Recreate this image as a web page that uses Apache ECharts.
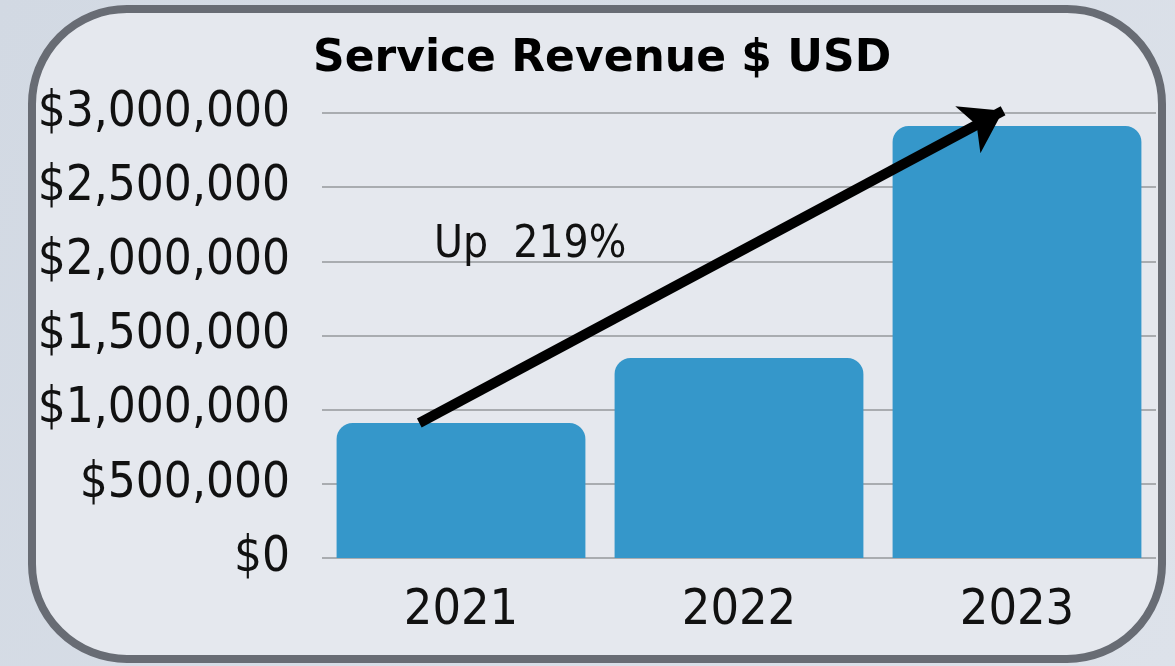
<!DOCTYPE html>
<html><head><meta charset="utf-8">
<script src="https://cdn.jsdelivr.net/npm/echarts@6/dist/echarts.min.js"></script>
<style>html,body{margin:0;padding:0;background:#d3dae4;}#c{width:1175px;height:666px;}</style>
</head><body><div id="c"></div>
<script>
const title = 'Service Revenue $ USD';
const years = ['2021', '2022', '2023'];
const revenue = [910000, 1348000, 2912000];
const yTicks = [0, 500000, 1000000, 1500000, 2000000, 2500000, 3000000];
const annotation = 'Up  219%';
const arrowFrom = [-0.15, 910000];
const arrowTo = [1.95, 3015000];

const chart = echarts.init(document.getElementById('c'));
const fmt = v => '$' + v.toLocaleString('en-US');
const cond = '"DejaVu Sans Condensed", "Liberation Sans Narrow", sans-serif';

chart.setOption({
  animation: false,
  backgroundColor: {
    type: 'linear', x: 0, y: 0, x2: 1, y2: 1,
    colorStops: [{offset: 0, color: '#d2d9e3'}, {offset: 1, color: '#dde2ea'}]
  },
  graphic: [
    {type: 'rect', z: -10, shape: {x: 32, y: 9, width: 1130, height: 650, r: 95},
     style: {fill: '#e5e8ee', stroke: '#686c74', lineWidth: 8}},
    {type: 'text', z: 10, left: 313, top: 38,
     style: {text: title, font: '900 44px "DejaVu Sans", sans-serif', fill: '#000'}},
    {type: 'text', z: 10, left: 434, top: 224,
     style: {text: annotation, font: '44px ' + cond, fill: '#111'}}
  ],
  grid: {left: 322, right: 19, top: 113, bottom: 108, containLabel: false},
  xAxis: [
    {type: 'category', data: years,
     axisLine: {show: false}, axisTick: {show: false},
     axisLabel: {fontFamily: cond, fontSize: 50, color: '#111', margin: 28}},
    {type: 'value', min: -0.5, max: 2.5, show: false}
  ],
  yAxis: {
    type: 'value', min: 0, max: 3000000, interval: 500000,
    axisLabel: {fontFamily: cond, fontSize: 49, color: '#111', margin: 32,
                formatter: v => yTicks.includes(v) ? fmt(v) : ''},
    axisLine: {show: false}, axisTick: {show: false},
    splitLine: {lineStyle: {color: '#a9acb0', width: 2}}
  },
  series: [
    {type: 'bar', data: revenue, xAxisIndex: 0, barCategoryGap: '10.5%',
     itemStyle: {color: '#3597ca', borderRadius: [16, 16, 0, 0]}},
    {type: 'lines', coordinateSystem: 'cartesian2d', xAxisIndex: 1, yAxisIndex: 0,
     z: 5, silent: true, clip: false,
     symbol: ['none', 'arrow'], symbolSize: [0, 40],
     lineStyle: {color: '#000', width: 10, opacity: 1},
     data: [{coords: [arrowFrom, arrowTo]}]}
  ]
});
</script></body></html>
